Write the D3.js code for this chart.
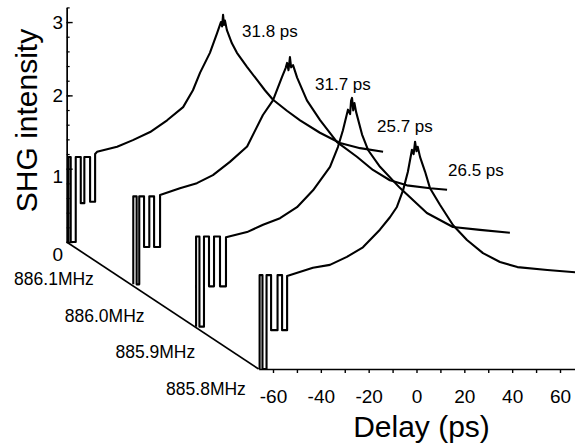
<!DOCTYPE html>
<html><head><meta charset="utf-8">
<script src="https://cdn.jsdelivr.net/npm/d3@7"></script>
<style>
body{margin:0;background:#fff}
svg{display:block}
text{font-family:"Liberation Sans",Arial,Helvetica,sans-serif;fill:#000}
</style></head><body>
<svg id="c" width="575" height="447"></svg>
<script>
// ---- data ----
const freqs = [886.1, 886.0, 885.9, 885.8];
const freqLabels = ["886.1MHz", "886.0MHz", "885.9MHz", "885.8MHz"];
const widthLabels = ["31.8 ps", "31.7 ps", "25.7 ps", "26.5 ps"];
const delayTicks = [-60, -40, -20, 0, 20, 40, 60];
const intensityTicks = [0, 1, 2, 3];

// [delay ps, SHG intensity]
const trace8861 = [[-65.9,0],[-65.3,0],[-65.3,1.16],[-64.3,1.16],[-64.3,0],[-62.2,0],[-62.2,1.16],[-60.1,1.16],[-60.1,0.53],[-58.6,0.53],[-58.6,1.16],[-56.2,1.16],[-56.2,0.55],[-54.1,0.55],[-54.1,1.2],
 [-53.3,1.23],[-44.9,1.30],[-38.3,1.39],[-31.1,1.50],[-24.0,1.66],[-17.3,1.84],[-13.2,2.07],[-10.2,2.31],[-6.1,2.58],[-3.1,2.85],[-1.5,3.00],[-1.0,2.94],[-0.6,3.10],[-0.2,2.96],[0.2,3.02],[1.0,2.89],[3.1,2.71],[5.2,2.58],[9.4,2.39],[13.6,2.21],[16.9,2.07],[20.3,1.94],[26.1,1.79],[31.6,1.66],[39.9,1.49],[48.3,1.35],[56.7,1.28],[66.3,1.23]];
const trace8860 = [[-64.9,0],[-64.9,1.2],[-63.5,1.2],[-63.5,0],[-62.4,0],[-62.4,1.2],[-60.4,1.2],[-60.4,0.51],[-58.2,0.51],[-58.2,1.2],[-56.2,1.2],[-56.2,0.51],[-53.7,0.51],[-53.7,1.22],
 [-45.4,1.31],[-38.3,1.38],[-31.6,1.49],[-24.5,1.67],[-17.3,1.88],[-10.7,2.31],[-6.5,2.51],[-2.7,2.83],[-1.2,2.95],[-0.6,3.02],[0.0,2.92],[0.6,3.10],[1.1,2.96],[1.9,2.99],[3.6,2.82],[7.7,2.51],[13.2,2.24],[20.3,1.94],[28.6,1.74],[35.3,1.56],[42.4,1.42],[49.5,1.35],[59.2,1.31],[66.3,1.29]];
const trace8859 = [[-65.4,0],[-65.4,1.23],[-64.0,1.23],[-64.0,0],[-62.1,0],[-62.1,1.23],[-60.0,1.23],[-60.0,0.55],[-57.9,0.55],[-57.9,1.23],[-55.4,1.23],[-55.4,0.55],[-52.9,0.55],[-52.9,1.22],
 [-44.1,1.29],[-37.4,1.39],[-30.3,1.48],[-23.2,1.63],[-16.5,1.86],[-9.4,2.18],[-6.1,2.45],[-4.0,2.68],[-1.9,2.96],[-1.0,2.90],[-0.6,3.08],[-0.2,3.12],[0.3,2.95],[0.8,3.05],[1.5,2.93],[4.0,2.62],[6.5,2.41],[11.5,2.18],[19.9,1.89],[31.1,1.55],[42.0,1.36],[53.3,1.32],[65.8,1.28]];
const trace8858 = [[-65.6,0],[-65.6,1.28],[-64.4,1.28],[-64.4,0],[-62.7,0],[-62.7,1.28],[-60.8,1.28],[-60.8,0.53],[-58.1,0.53],[-58.1,1.28],[-56.2,1.28],[-56.2,0.53],[-54.1,0.53],[-54.1,1.27],
 [-43.3,1.38],[-36.2,1.42],[-29.1,1.53],[-22.4,1.66],[-15.3,1.90],[-11.1,2.07],[-8.2,2.21],[-5.6,2.44],[-3.6,2.69],[-1.9,2.99],[-1.2,2.93],[-0.6,3.10],[0.0,2.97],[0.5,3.03],[1.5,2.89],[3.6,2.69],[5.6,2.47],[9.8,2.24],[15.3,1.96],[21.1,1.76],[27.8,1.58],[34.9,1.46],[42.2,1.39],[54.7,1.35],[66.4,1.32]];
const traces = [trace8861, trace8860, trace8859, trace8858];

// ---- scales ----
const svg = d3.select("#c");
const x = d3.scaleLinear().domain([-60, 60]).range([273, 560]);
const y = d3.scaleLinear().domain([0, 3.2]).range([369, 134.4]);
const offX = d3.scaleLinear().domain([885.8, 886.1]).range([0, -192]);
const offY = d3.scaleLinear().domain([885.8, 886.1]).range([0, -127]);
const dMin = -66, dMax = 66.8;

// ---- traces (back to front) ----
const line = d3.line().x(d => x(d[0])).y(d => y(d[1]));
traces.forEach((pts, i) => {
  svg.append("path")
    .attr("d", line(pts))
    .attr("transform", `translate(${offX(freqs[i])},${offY(freqs[i])})`)
    .attr("fill", "none").attr("stroke", "#000")
    .attr("stroke-width", 2.1).attr("stroke-linejoin", "round");
});

// ---- delay axis (front) ----
const xa = d3.scaleLinear().domain([dMin, dMax]).range([x(dMin), x(dMax)]);
const gx = svg.append("g").attr("transform", `translate(0,${y(0)})`)
  .call(d3.axisBottom(xa).tickValues(d3.range(-60, 61, 10))
    .tickSizeInner(4).tickSizeOuter(0).tickPadding(17)
    .tickFormat(d => delayTicks.includes(d) ? String(d) : ""));
gx.select(".domain").attr("stroke-width", 1.7);
gx.selectAll(".tick line").attr("stroke-width", 1.4);
gx.selectAll("text").attr("font-size", 19).attr("font-family", null);

// ---- intensity axis (back plane) ----
const fb = freqs[0];
const ya = d3.scaleLinear().domain([0, 3.2]).range([y(0) + offY(fb), y(3.2) + offY(fb)]);
const axX = x(dMin) + offX(fb);
const gyMinor = svg.append("g").attr("transform", `translate(${axX},0)`)
  .call(d3.axisLeft(ya).tickValues(d3.range(0, 3.21, 0.2)).tickSizeInner(-3).tickSizeOuter(0).tickFormat(""));
gyMinor.select(".domain").attr("stroke-width", 1.7);
gyMinor.selectAll(".tick line").attr("stroke-width", 1.2);
const gy = svg.append("g").attr("transform", `translate(${axX},0)`)
  .call(d3.axisLeft(ya).tickValues(intensityTicks).tickSizeInner(-6).tickSizeOuter(0).tickPadding(3.5).tickFormat(d3.format("d")));
gy.select(".domain").remove();
gy.selectAll(".tick line").attr("stroke-width", 1.4);
gy.selectAll("text").attr("font-size", 19).attr("font-family", null)
  .attr("dy", d => d === 0 ? "0.98em" : d === 1 ? "0.75em" : "0.32em");

// ---- depth (frequency) axis ----
svg.append("line")
  .attr("x1", x(dMin) + offX(fb)).attr("y1", y(0) + offY(fb))
  .attr("x2", x(dMin) + offX(freqs[3])).attr("y2", y(0) + offY(freqs[3]))
  .attr("stroke", "#000").attr("stroke-width", 1.7);
const lblX = d3.scaleLinear().domain([886.1, 885.8]).range([54, 206]);
const lblY = d3.scaleLinear().domain([886.1, 885.8]).range([285, 395]);
freqs.forEach((f, i) => {
  svg.append("text").attr("x", lblX(f)).attr("y", lblY(f))
    .attr("text-anchor", "middle").attr("font-size", 17.5).text(freqLabels[i]);
});

// ---- width annotations ----
const nudges = [[17.5, 22], [26.5, 33], [24.5, 32.5], [31.5, 34]];
freqs.forEach((f, i) => {
  svg.append("text")
    .attr("x", x(0) + offX(f) + nudges[i][0])
    .attr("y", y(3.1) + offY(f) + nudges[i][1])
    .attr("font-size", 17).text(widthLabels[i]);
});

// ---- titles ----
svg.append("text").attr("x", 421.5).attr("y", 437).attr("text-anchor", "middle")
  .attr("font-size", 30).text("Delay (ps)");
svg.append("text").attr("transform", "translate(37,120.5) rotate(-90)")
  .attr("text-anchor", "middle").attr("font-size", 30).text("SHG intensity");
</script></body></html>
